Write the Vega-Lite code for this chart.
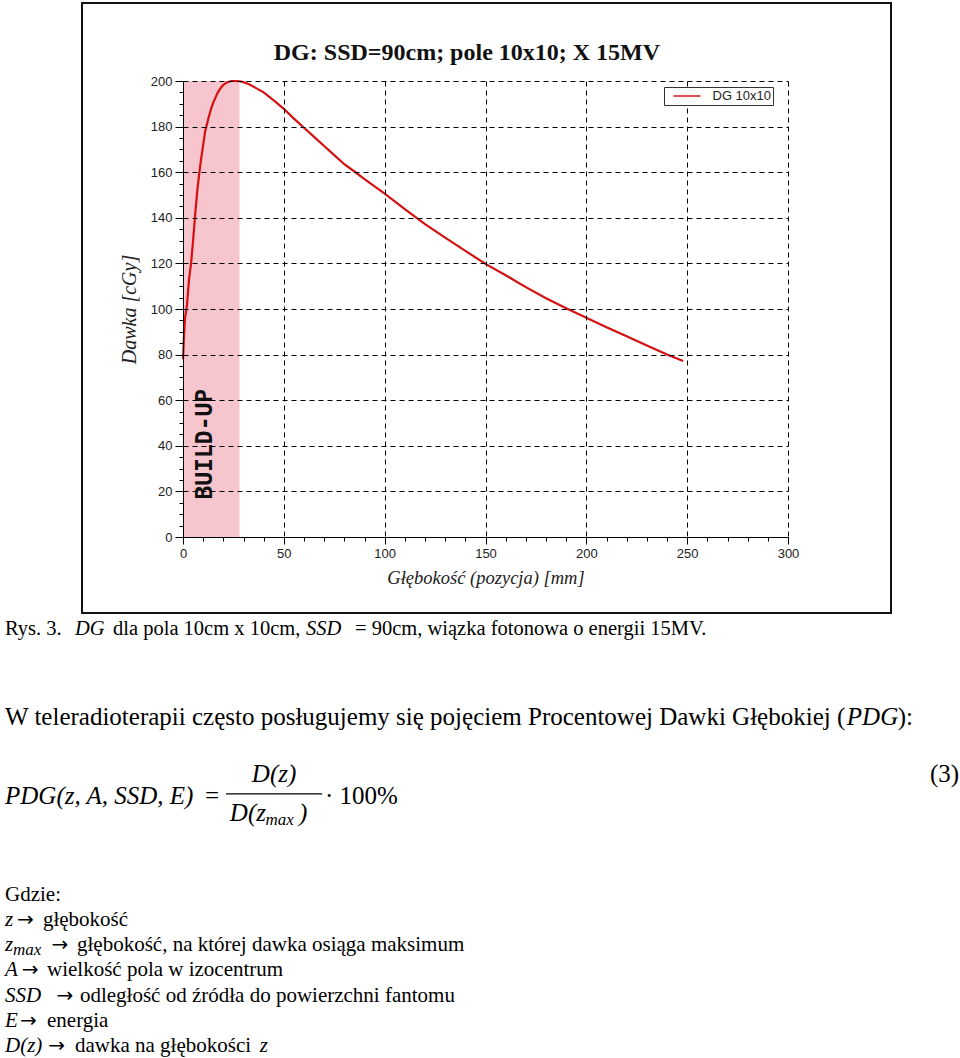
{
  "$schema": "https://vega.github.io/schema/vega-lite/v6.json",
  "background": "white",
  "padding": {"left": 5, "top": 2, "right": 0, "bottom": 0},
  "autosize": {"type": "pad"},
  "bounds": "flush",
  "center": true,
  "spacing": 92,
  "config": {"view": {"stroke": null}, "font": "Liberation Sans"},
  "datasets": {
    "curve": [
      {"depth": 0, "dose": 78, "series": "DG 10x10"},
      {"depth": 0.5, "dose": 88, "series": "DG 10x10"},
      {"depth": 1, "dose": 96, "series": "DG 10x10"},
      {"depth": 2, "dose": 102, "series": "DG 10x10"},
      {"depth": 3, "dose": 113, "series": "DG 10x10"},
      {"depth": 4, "dose": 120, "series": "DG 10x10"},
      {"depth": 5, "dose": 130, "series": "DG 10x10"},
      {"depth": 6, "dose": 141, "series": "DG 10x10"},
      {"depth": 7, "dose": 151, "series": "DG 10x10"},
      {"depth": 8, "dose": 159, "series": "DG 10x10"},
      {"depth": 9, "dose": 166, "series": "DG 10x10"},
      {"depth": 10, "dose": 172, "series": "DG 10x10"},
      {"depth": 11, "dose": 178, "series": "DG 10x10"},
      {"depth": 12, "dose": 181.5, "series": "DG 10x10"},
      {"depth": 13, "dose": 185, "series": "DG 10x10"},
      {"depth": 14, "dose": 188, "series": "DG 10x10"},
      {"depth": 15, "dose": 190.5, "series": "DG 10x10"},
      {"depth": 16, "dose": 192.5, "series": "DG 10x10"},
      {"depth": 17, "dose": 194.5, "series": "DG 10x10"},
      {"depth": 18, "dose": 196, "series": "DG 10x10"},
      {"depth": 19, "dose": 197.3, "series": "DG 10x10"},
      {"depth": 20, "dose": 198.3, "series": "DG 10x10"},
      {"depth": 22, "dose": 199.5, "series": "DG 10x10"},
      {"depth": 24, "dose": 200, "series": "DG 10x10"},
      {"depth": 26, "dose": 200, "series": "DG 10x10"},
      {"depth": 28, "dose": 199.9, "series": "DG 10x10"},
      {"depth": 30, "dose": 199.5, "series": "DG 10x10"},
      {"depth": 33, "dose": 198.5, "series": "DG 10x10"},
      {"depth": 36, "dose": 197, "series": "DG 10x10"},
      {"depth": 40, "dose": 195, "series": "DG 10x10"},
      {"depth": 45, "dose": 191.5, "series": "DG 10x10"},
      {"depth": 50, "dose": 187.8, "series": "DG 10x10"},
      {"depth": 55, "dose": 183.5, "series": "DG 10x10"},
      {"depth": 60, "dose": 179.5, "series": "DG 10x10"},
      {"depth": 65, "dose": 175.5, "series": "DG 10x10"},
      {"depth": 70, "dose": 171.5, "series": "DG 10x10"},
      {"depth": 75, "dose": 167.5, "series": "DG 10x10"},
      {"depth": 80, "dose": 163.5, "series": "DG 10x10"},
      {"depth": 85, "dose": 160.3, "series": "DG 10x10"},
      {"depth": 90, "dose": 157, "series": "DG 10x10"},
      {"depth": 95, "dose": 153.8, "series": "DG 10x10"},
      {"depth": 100, "dose": 150.6, "series": "DG 10x10"},
      {"depth": 110, "dose": 143.8, "series": "DG 10x10"},
      {"depth": 120, "dose": 137.2, "series": "DG 10x10"},
      {"depth": 130, "dose": 131.3, "series": "DG 10x10"},
      {"depth": 140, "dose": 125.5, "series": "DG 10x10"},
      {"depth": 150, "dose": 119.8, "series": "DG 10x10"},
      {"depth": 160, "dose": 114.8, "series": "DG 10x10"},
      {"depth": 170, "dose": 109.6, "series": "DG 10x10"},
      {"depth": 180, "dose": 104.7, "series": "DG 10x10"},
      {"depth": 190, "dose": 100.3, "series": "DG 10x10"},
      {"depth": 200, "dose": 96.2, "series": "DG 10x10"},
      {"depth": 210, "dose": 92, "series": "DG 10x10"},
      {"depth": 220, "dose": 88, "series": "DG 10x10"},
      {"depth": 230, "dose": 84, "series": "DG 10x10"},
      {"depth": 240, "dose": 80, "series": "DG 10x10"},
      {"depth": 248, "dose": 77.2, "series": "DG 10x10"}
    ],
    "buildup": [{"start": 0, "end": 28, "low": 0, "high": 200, "label": "BUILD-UP"}],
    "heading": [{"t": "DG: SSD=90cm; pole 10x10; X 15MV"}],
    "capRoman": [
      {"line": 0, "col": 0, "t": "Rys. 3."},
      {"line": 0, "col": 11.24, "t": "dla pola 10cm x 10cm,"},
      {"line": 0, "col": 36.42, "t": "= 90cm, wiązka fotonowa o energii 15MV."}
    ],
    "capItalic": [
      {"line": 0, "col": 7.28, "t": "DG"},
      {"line": 0, "col": 31.32, "t": "SSD"}
    ],
    "bodyRoman": [
      {"line": 3.48, "col": 0, "t": "W teleradioterapii często posługujemy się pojęciem Procentowej Dawki Głębokiej ("},
      {"line": 3.48, "col": 92.9, "t": "):"},
      {"line": 6.6, "col": 20.8, "t": "="},
      {"line": 6.6, "col": 33.3, "t": "· 100%"},
      {"line": 5.73, "col": 96.25, "t": "(3)"}
    ],
    "bodyItalic": [
      {"line": 3.48, "col": 87.6, "t": "PDG"},
      {"line": 6.6, "col": 0, "t": "PDG(z, A, SSD, E)"},
      {"line": 7.27, "col": 23.4, "t": "D(z"},
      {"line": 7.27, "col": 30.6, "t": ")"}
    ],
    "bodyCenter": [
      {"line": 5.73, "col": 28, "t": "D(z)"}
    ],
    "subs": [
      {"line": 7.55, "col": 27.1, "t": "max"},
      {"line": 12.68, "col": 0.83, "t": "max"}
    ],
    "arrows": [
      {"line": 11.5, "col": 1.25, "t": "→"},
      {"line": 12.5, "col": 4.85, "t": "→"},
      {"line": 13.5, "col": 1.75, "t": "→"},
      {"line": 14.5, "col": 5.35, "t": "→"},
      {"line": 15.5, "col": 1.55, "t": "→"},
      {"line": 16.5, "col": 4.5, "t": "→"}
    ],
    "listRoman": [
      {"line": 10.5, "col": 0, "t": "Gdzie:"},
      {"line": 11.5, "col": 3.95, "t": "głębokość"},
      {"line": 12.5, "col": 7.49, "t": "głębokość, na której dawka osiąga maksimum"},
      {"line": 13.5, "col": 4.37, "t": "wielkość pola w izocentrum"},
      {"line": 14.5, "col": 7.8, "t": "odległość od źródła do powierzchni fantomu"},
      {"line": 15.5, "col": 4.37, "t": "energia"},
      {"line": 16.5, "col": 7.28, "t": "dawka na głębokości"}
    ],
    "listItalic": [
      {"line": 11.5, "col": 0, "t": "z"},
      {"line": 12.5, "col": 0, "t": "z"},
      {"line": 13.5, "col": 0, "t": "A"},
      {"line": 14.5, "col": 0, "t": "SSD"},
      {"line": 15.5, "col": 0, "t": "E"},
      {"line": 16.5, "col": 0, "t": "D(z)"},
      {"line": 16.5, "col": 26.5, "t": "z"}
    ]
  },
  "vconcat": [
    {
      "width": 605,
      "height": 456,
      "resolve": {"axis": {"x": "independent", "y": "independent"}},
      "layer": [
        {
          "data": {"name": "buildup"},
          "mark": {"type": "rect", "color": "#f6c5cd"},
          "encoding": {
            "x": {"field": "start", "type": "quantitative", "scale": {"domain": [0, 300], "nice": false},
              "axis": {"orient": "bottom", "values": [0,10,20,30,40,50,60,70,80,90,100,110,120,130,140,150,160,170,180,190,200,210,220,230,240,250,260,270,280,290,300], "labels": false, "grid": false, "domain": false, "tickSize": 4, "tickColor": "#000", "title": null, "zindex": 1}},
            "x2": {"field": "end"},
            "y": {"field": "low", "type": "quantitative", "scale": {"domain": [0, 200], "nice": false},
              "axis": {"orient": "left", "values": [0,5,10,15,20,25,30,35,40,45,50,55,60,65,70,75,80,85,90,95,100,105,110,115,120,125,130,135,140,145,150,155,160,165,170,175,180,185,190,195,200], "labels": false, "grid": false, "domain": false, "tickSize": 4, "tickColor": "#000", "title": null, "zindex": 1}},
            "y2": {"field": "high"}
          }
        },
        {
          "data": {"name": "buildup"},
          "mark": {"type": "rect", "filled": false, "color": "#111", "strokeWidth": 2},
          "encoding": {
            "x": {"datum": -50.08, "type": "quantitative", "scale": {"domain": [0, 300], "nice": false}, "axis": null},
            "x2": {"datum": 351.07},
            "y": {"datum": -33.33, "type": "quantitative", "scale": {"domain": [0, 200], "nice": false}, "axis": null},
            "y2": {"datum": 234.2}
          }
        },
        {
          "data": {"name": "heading"},
          "mark": {"type": "text", "font": "Liberation Serif", "fontWeight": "bold", "fontSize": 24, "align": "center", "baseline": "middle", "color": "#111"},
          "encoding": {
            "x": {"datum": 140.8, "type": "quantitative", "scale": {"domain": [0, 300], "nice": false}, "axis": null},
            "y": {"datum": 212.3, "type": "quantitative", "scale": {"domain": [0, 200], "nice": false}, "axis": null},
            "text": {"field": "t"}
          }
        },
        {
          "data": {"name": "curve"},
          "mark": {"type": "line", "strokeWidth": 2.2},
          "encoding": {
            "x": {"field": "depth", "type": "quantitative", "scale": {"domain": [0, 300], "nice": false},
              "axis": {"orient": "bottom", "values": [0, 50, 100, 150, 200, 250, 300], "tickSize": 7, "tickColor": "#000", "domainColor": "#000", "grid": true, "gridColor": "#000", "gridDash": [5, 4], "gridOpacity": 1, "labelFont": "Liberation Sans", "labelFontSize": 13, "labelColor": "#222", "labelPadding": 3, "labelFlush": false, "title": "Głębokość (pozycja) [mm]", "titleFont": "Liberation Serif", "titleFontStyle": "italic", "titleFontWeight": "normal", "titleFontSize": 18.5, "titleColor": "#222", "titlePadding": 8, "zindex": 1}},
            "y": {"field": "dose", "type": "quantitative", "scale": {"domain": [0, 200], "nice": false},
              "axis": {"orient": "left", "values": [0, 20, 40, 60, 80, 100, 120, 140, 160, 180, 200], "tickSize": 8, "tickColor": "#000", "domainColor": "#000", "grid": true, "gridColor": "#000", "gridDash": [5, 4], "gridOpacity": 1, "labelFont": "Liberation Sans", "labelFontSize": 13, "labelColor": "#222", "labelPadding": 3, "labelFlush": false, "title": "Dawka [cGy]", "titleFont": "Liberation Serif", "titleFontStyle": "italic", "titleFontWeight": "normal", "titleFontSize": 20, "titleColor": "#222", "titlePadding": 11, "zindex": 1}},
            "color": {"field": "series", "type": "nominal", "scale": {"range": ["#d41010"]},
              "legend": {"orient": "none", "legendX": 659, "legendY": 6, "title": null, "symbolType": "M-2,0H2", "symbolSize": 180, "symbolStrokeWidth": 1.5, "symbolOffset": 14, "labelFont": "Liberation Sans", "labelFontSize": 13, "labelColor": "#222", "labelOffset": 18, "padding": 1.5, "strokeColor": "#333", "fillColor": "white"}}
          }
        },
        {
          "data": {"name": "buildup"},
          "mark": {"type": "text", "font": "DejaVu Sans Mono", "fontWeight": "bold", "fontSize": 23, "angle": 270, "align": "center", "baseline": "middle", "color": "#111"},
          "encoding": {
            "x": {"datum": 10.9, "type": "quantitative", "scale": {"domain": [0, 300], "nice": false}, "axis": null},
            "y": {"datum": 40.7, "type": "quantitative", "scale": {"domain": [0, 200], "nice": false}, "axis": null},
            "text": {"field": "label"}
          }
        }
      ]
    },
    {
      "width": 961,
      "height": 430,
      "layer": [
        {
          "data": {"name": "capRoman"},
          "mark": {"type": "text", "align": "left", "baseline": "middle", "font": "Liberation Serif", "fontSize": 20.5, "color": "#000"},
          "encoding": {
            "x": {"field": "col", "type": "quantitative", "scale": {"domain": [0, 100]}, "axis": null},
            "y": {"field": "line", "type": "quantitative", "scale": {"domain": [0, 17], "reverse": true}, "axis": null},
            "text": {"field": "t"}
          }
        },
        {
          "data": {"name": "capItalic"},
          "mark": {"type": "text", "align": "left", "baseline": "middle", "font": "Liberation Serif", "fontStyle": "italic", "fontSize": 20.5, "color": "#000"},
          "encoding": {
            "x": {"field": "col", "type": "quantitative", "scale": {"domain": [0, 100]}, "axis": null},
            "y": {"field": "line", "type": "quantitative", "scale": {"domain": [0, 17], "reverse": true}, "axis": null},
            "text": {"field": "t"}
          }
        },
        {
          "data": {"name": "bodyRoman"},
          "mark": {"type": "text", "align": "left", "baseline": "middle", "font": "Liberation Serif", "fontSize": 25, "color": "#000"},
          "encoding": {
            "x": {"field": "col", "type": "quantitative", "scale": {"domain": [0, 100]}, "axis": null},
            "y": {"field": "line", "type": "quantitative", "scale": {"domain": [0, 17], "reverse": true}, "axis": null},
            "text": {"field": "t"}
          }
        },
        {
          "data": {"name": "bodyItalic"},
          "mark": {"type": "text", "align": "left", "baseline": "middle", "font": "Liberation Serif", "fontStyle": "italic", "fontSize": 25, "color": "#000"},
          "encoding": {
            "x": {"field": "col", "type": "quantitative", "scale": {"domain": [0, 100]}, "axis": null},
            "y": {"field": "line", "type": "quantitative", "scale": {"domain": [0, 17], "reverse": true}, "axis": null},
            "text": {"field": "t"}
          }
        },
        {
          "data": {"name": "bodyCenter"},
          "mark": {"type": "text", "align": "center", "baseline": "middle", "font": "Liberation Serif", "fontStyle": "italic", "fontSize": 25, "color": "#000"},
          "encoding": {
            "x": {"field": "col", "type": "quantitative", "scale": {"domain": [0, 100]}, "axis": null},
            "y": {"field": "line", "type": "quantitative", "scale": {"domain": [0, 17], "reverse": true}, "axis": null},
            "text": {"field": "t"}
          }
        },
        {
          "data": {"name": "subs"},
          "mark": {"type": "text", "align": "left", "baseline": "middle", "font": "Liberation Serif", "fontStyle": "italic", "fontSize": 17, "color": "#000"},
          "encoding": {
            "x": {"field": "col", "type": "quantitative", "scale": {"domain": [0, 100]}, "axis": null},
            "y": {"field": "line", "type": "quantitative", "scale": {"domain": [0, 17], "reverse": true}, "axis": null},
            "text": {"field": "t"}
          }
        },
        {
          "data": {"name": "arrows"},
          "mark": {"type": "text", "align": "left", "baseline": "middle", "font": "DejaVu Sans", "fontSize": 20, "color": "#000"},
          "encoding": {
            "x": {"field": "col", "type": "quantitative", "scale": {"domain": [0, 100]}, "axis": null},
            "y": {"field": "line", "type": "quantitative", "scale": {"domain": [0, 17], "reverse": true}, "axis": null},
            "text": {"field": "t"}
          }
        },
        {
          "data": {"name": "listRoman"},
          "mark": {"type": "text", "align": "left", "baseline": "middle", "font": "Liberation Serif", "fontSize": 21, "color": "#000"},
          "encoding": {
            "x": {"field": "col", "type": "quantitative", "scale": {"domain": [0, 100]}, "axis": null},
            "y": {"field": "line", "type": "quantitative", "scale": {"domain": [0, 17], "reverse": true}, "axis": null},
            "text": {"field": "t"}
          }
        },
        {
          "data": {"name": "listItalic"},
          "mark": {"type": "text", "align": "left", "baseline": "middle", "font": "Liberation Serif", "fontStyle": "italic", "fontSize": 21, "color": "#000"},
          "encoding": {
            "x": {"field": "col", "type": "quantitative", "scale": {"domain": [0, 100]}, "axis": null},
            "y": {"field": "line", "type": "quantitative", "scale": {"domain": [0, 17], "reverse": true}, "axis": null},
            "text": {"field": "t"}
          }
        },
        {
          "data": {"name": "bodyCenter"},
          "mark": {"type": "rule", "color": "#000", "strokeWidth": 1.2},
          "encoding": {
            "x": {"datum": 23.0, "type": "quantitative", "scale": {"domain": [0, 100]}, "axis": null},
            "x2": {"datum": 33},
            "y": {"datum": 6.52, "type": "quantitative", "scale": {"domain": [0, 17], "reverse": true}, "axis": null}
          }
        }
      ]
    }
  ]
}
